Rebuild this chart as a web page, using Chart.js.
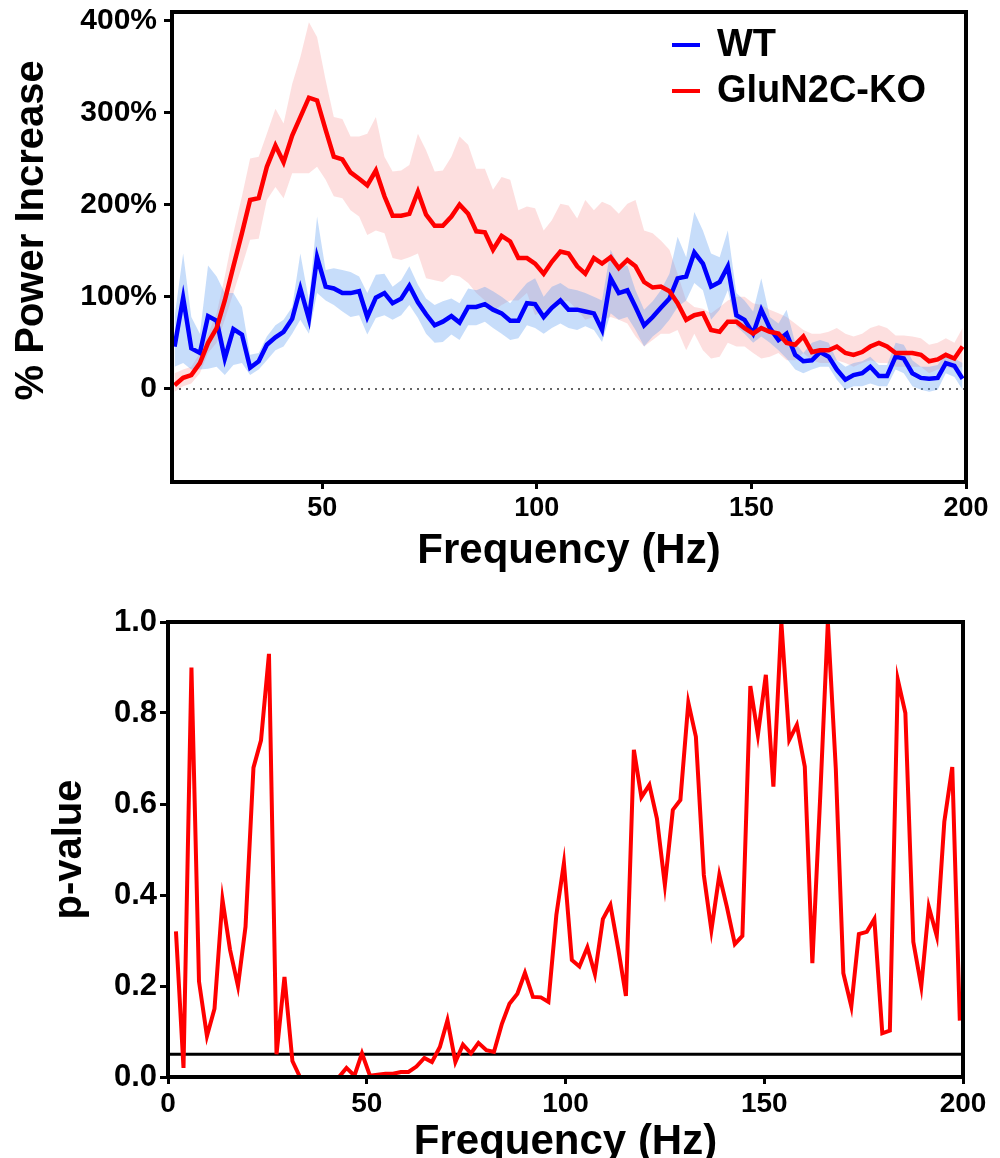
<!DOCTYPE html>
<html>
<head>
<meta charset="utf-8">
<script src="https://cdn.jsdelivr.net/npm/chart.js@4.4.1/dist/chart.umd.min.js"></script>
<style>
html, body { margin: 0; padding: 0; background: #fff; width: 1000px; height: 1158px; overflow: hidden; }
canvas { display: block; }
</style>
</head>
<body>
<canvas id="powerChart" width="1000" height="590"></canvas>
<canvas id="pChart" width="1000" height="600"></canvas>
<script>
// frequency bins (Hz), step ~1.95 Hz
const freqHz = [2.0, 3.9, 5.9, 7.8, 9.8, 11.7, 13.7, 15.6, 17.6, 19.5, 21.5, 23.4, 25.4, 27.3, 29.3, 31.3, 33.2, 35.2, 37.1, 39.1,
  41.0, 43.0, 44.9, 46.9, 48.8, 50.8, 52.7, 54.7, 56.6, 58.6, 60.5, 62.5, 64.5, 66.4, 68.4, 70.3, 72.3, 74.2, 76.2, 78.1,
  80.1, 82.0, 84.0, 85.9, 87.9, 89.8, 91.8, 93.8, 95.7, 97.7, 99.6, 101.6, 103.5, 105.5, 107.4, 109.4, 111.3, 113.3, 115.2, 117.2,
  119.1, 121.1, 123.0, 125.0, 127.0, 128.9, 130.9, 132.8, 134.8, 136.7, 138.7, 140.6, 142.6, 144.5, 146.5, 148.4, 150.4, 152.3, 154.3, 156.3,
  158.2, 160.2, 162.1, 164.1, 166.0, 168.0, 169.9, 171.9, 173.8, 175.8, 177.7, 179.7, 181.6, 183.6, 185.5, 187.5, 189.5, 191.4, 193.4, 195.3,
  197.3, 199.2];

// top panel starts at 15.6 Hz
const freqTop = freqHz.slice(7);

// % power increase, WT
const wtMean = [46, 99, 44, 39, 79, 74, 33, 65, 59, 23, 30, 48, 56, 62, 76, 109, 76, 143, 111, 109,
  104, 104, 106, 78, 99, 104, 93, 98, 112, 94, 81, 69, 73, 79, 72, 89, 89, 92, 86, 82,
  74, 74, 93, 92, 78, 88, 96, 86, 86, 84, 82, 64, 120, 104, 107, 89, 69, 78, 88, 98,
  120, 122, 148, 136, 111, 116, 133, 80, 75, 60, 86, 66, 53, 60, 37, 30, 31, 40, 35, 21,
  10, 15, 17, 24, 14, 14, 35, 33, 17, 12, 11, 12, 28, 25, 11];
const wtUpper = [78, 147, 78, 60, 134, 122, 104, 104, 89, 37, 39, 57, 69, 75, 89, 147, 96, 187, 129, 131,
  129, 127, 122, 104, 124, 125, 111, 118, 133, 113, 98, 91, 95, 98, 93, 109, 107, 111, 106, 100,
  93, 104, 115, 120, 100, 111, 115, 109, 107, 104, 100, 96, 151, 133, 134, 107, 86, 95, 107, 125,
  165, 143, 192, 172, 147, 143, 172, 104, 96, 84, 120, 78, 71, 86, 50, 39, 50, 53, 50, 31,
  24, 28, 30, 35, 26, 26, 50, 48, 31, 24, 24, 26, 39, 33, 28];
const wtLower = [24, 28, 21, 21, 22, 24, 15, 26, 28, 15, 21, 31, 42, 46, 60, 75, 60, 104, 96, 91,
  84, 78, 80, 59, 77, 80, 75, 80, 91, 77, 60, 50, 51, 59, 53, 69, 69, 73, 66, 60,
  53, 55, 69, 66, 60, 66, 71, 66, 64, 68, 64, 51, 82, 75, 78, 64, 46, 57, 64, 75,
  89, 96, 115, 107, 75, 86, 107, 68, 60, 50, 57, 50, 42, 33, 21, 17, 21, 24, 24, 10,
  -1, 3, 3, 6, 3, 3, 21, 17, 3, -1, -3, -1, 17, 13, -1];

// % power increase, GluN2C-KO
const koMean = [4, 12, 15, 28, 50, 66, 96, 133, 169, 205, 207, 241, 264, 246, 275, 295, 316, 313, 281, 252,
  249, 235, 228, 221, 237, 209, 188, 188, 190, 214, 189, 177, 177, 187, 200, 190, 171, 170, 151, 166,
  160, 142, 142, 136, 125, 138, 149, 147, 133, 125, 142, 136, 143, 131, 140, 133, 116, 110, 111, 106,
  93, 75, 80, 82, 64, 62, 73, 73, 66, 60, 66, 62, 60, 50, 48, 57, 40, 42, 42, 46,
  39, 37, 40, 46, 50, 46, 39, 39, 39, 37, 30, 32, 37, 33, 46];
const koUpper = [17, 21, 24, 39, 60, 82, 122, 169, 209, 250, 252, 277, 304, 288, 331, 360, 398, 382, 335, 295,
  293, 274, 274, 277, 295, 252, 236, 237, 243, 277, 259, 236, 237, 252, 274, 265, 239, 239, 216, 230,
  227, 194, 198, 196, 172, 183, 201, 199, 185, 205, 194, 203, 199, 190, 201, 205, 172, 169, 161, 151,
  125, 96, 89, 87, 82, 89, 96, 100, 100, 93, 91, 86, 82, 78, 71, 64, 60, 60, 62, 66,
  60, 57, 60, 66, 69, 66, 58, 58, 57, 55, 48, 50, 55, 50, 66];
const koLower = [-3, 3, 6, 17, 39, 50, 75, 104, 133, 162, 163, 205, 219, 207, 234, 234, 234, 241, 227, 209,
  207, 194, 187, 167, 172, 169, 142, 140, 143, 147, 120, 118, 116, 124, 122, 115, 104, 96, 84, 91,
  96, 96, 104, 80, 86, 86, 96, 95, 86, 75, 78, 75, 78, 75, 71, 57, 46, 53, 60, 60,
  64, 42, 60, 42, 33, 35, 50, 46, 46, 39, 33, 35, 39, 31, 31, 39, 31, 28, 28, 31,
  28, 24, 28, 31, 28, 28, 24, 24, 24, 24, 17, 21, 24, 21, 24];

// p-value per frequency bin
const pValues = [0.32, 0.02, 0.90, 0.21, 0.09, 0.15, 0.39, 0.28, 0.20, 0.33, 0.68, 0.74, 0.93, 0.05, 0.22, 0.035,
  0, 0, 0, 0, 0, 0, 0.02, 0.003, 0.052, 0.003, 0.005, 0.007, 0.007, 0.011, 0.011, 0.023, 0.042, 0.033, 0.066, 0.125,
  0.033, 0.071, 0.052, 0.075, 0.059, 0.055, 0.117, 0.161, 0.183, 0.229, 0.176, 0.175, 0.165, 0.356, 0.470, 0.257,
  0.243, 0.285, 0.226, 0.347, 0.378, 0.28, 0.178, 0.719, 0.615, 0.642, 0.568, 0.422, 0.587, 0.609, 0.823, 0.748,
  0.444, 0.323, 0.444, 0.374, 0.292, 0.31, 0.859, 0.752, 0.884, 0.638, 1.0, 0.741, 0.774, 0.682, 0.25, 0.62,
  1.0, 0.678, 0.228, 0.155, 0.314, 0.319, 0.347, 0.096, 0.102, 0.873, 0.80, 0.297, 0.199, 0.374, 0.31, 0.561,
  0.681, 0.124];

const powerTicks = [0, 100, 200, 300, 400];
const freqTicksTop = [50, 100, 150, 200];
const pThreshold = 0.05;

const RED = '#ff0000';
const BLUE = '#0000ff';
const FONT = "'Liberation Sans', Arial, Helvetica, sans-serif";

Chart.defaults.font.family = FONT;
Chart.defaults.font.weight = 'bold';
Chart.defaults.color = '#000';
Chart.defaults.animation = false;

const pts = (xs, ys) => ys.map((y, i) => ({ x: xs[i], y: y }));

// black box round the plot area
const frame = {
  id: 'frame',
  afterDatasetsDraw(chart) {
    const a = chart.chartArea, ctx = chart.ctx;
    ctx.save();
    ctx.lineWidth = 4;
    ctx.strokeStyle = '#000';
    ctx.strokeRect(a.left, a.top, a.right - a.left, a.bottom - a.top);
    ctx.restore();
  }
};

// legend drawn inside the top-right corner of the plot
const insideLegend = {
  id: 'insideLegend',
  afterDraw(chart) {
    const a = chart.chartArea, ctx = chart.ctx;
    const x0 = a.right - 294;
    const items = [['WT', BLUE, a.top + 33], ['GluN2C-KO', RED, a.top + 79]];
    ctx.save();
    ctx.font = 'bold 38px ' + FONT;
    ctx.textBaseline = 'middle';
    ctx.textAlign = 'left';
    items.forEach(([label, color, y]) => {
      ctx.strokeStyle = color;
      ctx.lineWidth = 4;
      ctx.beginPath();
      ctx.moveTo(x0, y);
      ctx.lineTo(x0 + 28, y);
      ctx.stroke();
      ctx.fillStyle = '#000';
      ctx.fillText(label, x0 + 45, y + 1);
    });
    ctx.restore();
  }
};

const tickGrid = {
  drawOnChartArea: false,
  drawTicks: true,
  tickLength: 8,
  tickWidth: 3,
  tickColor: '#000',
  color: '#000'
};

// ---- top: % power increase ----
new Chart(document.getElementById('powerChart'), {
  type: 'line',
  data: {
    datasets: [
      { label: 'GluN2C-KO', data: pts(freqTop, koMean), borderColor: RED, borderWidth: 4.5, pointRadius: 0, fill: false },
      { label: 'WT', data: pts(freqTop, wtMean), borderColor: BLUE, borderWidth: 4.5, pointRadius: 0, fill: false },
      { label: 'wtUpper', data: pts(freqTop, wtUpper), borderWidth: 0, pointRadius: 0, backgroundColor: 'rgba(100,160,240,0.36)', fill: '+1' },
      { label: 'wtLower', data: pts(freqTop, wtLower), borderWidth: 0, pointRadius: 0, fill: false },
      { label: 'koUpper', data: pts(freqTop, koUpper), borderWidth: 0, pointRadius: 0, backgroundColor: 'rgba(250,150,150,0.3)', fill: '+1' },
      { label: 'koLower', data: pts(freqTop, koLower), borderWidth: 0, pointRadius: 0, fill: false },
      { label: 'zero', data: [{ x: 15, y: 0 }, { x: 200, y: 0 }], borderColor: '#333', borderWidth: 1.5, borderDash: [2, 5], pointRadius: 0, fill: false }
    ]
  },
  options: {
    responsive: false,
    layout: { padding: { left: 0, right: 34, top: 12, bottom: 0 } },
    plugins: { legend: { display: false }, tooltip: { enabled: false } },
    scales: {
      x: {
        type: 'linear', min: 15, max: 200,
        grid: { ...tickGrid, tickLength: 7 },
        border: { display: false },
        afterBuildTicks: s => { s.ticks = freqTicksTop.map(v => ({ value: v })); },
        afterFit: s => { s.height = 108; s.paddingLeft = 0; s.paddingRight = 0; },
        ticks: { font: { size: 27, weight: 'bold' }, padding: 3, maxRotation: 0 },
        title: { display: true, text: 'Frequency (Hz)', font: { size: 42, weight: 'bold' }, padding: { top: 0, bottom: 13 } }
      },
      y: {
        min: -101, max: 409,
        grid: tickGrid,
        border: { display: false },
        afterBuildTicks: s => { s.ticks = powerTicks.map(v => ({ value: v })); },
        afterFit: s => { s.width = 172; s.paddingTop = 0; s.paddingBottom = 0; },
        ticks: { font: { size: 30, weight: 'bold' }, padding: 7, callback: v => v === 0 ? '0' : v + '%' },
        // leading spaces nudge the centred title up, as in the figure
        title: { display: true, text: '   % Power Increase', font: { size: 40, weight: 'bold' }, padding: { top: 8, bottom: 0 } }
      }
    }
  },
  plugins: [frame, insideLegend]
});

// ---- bottom: p-value ----
new Chart(document.getElementById('pChart'), {
  type: 'line',
  data: {
    datasets: [
      { label: 'p', data: pts(freqHz, pValues), borderColor: RED, borderWidth: 4, pointRadius: 0, fill: false },
      { label: 'p = 0.05', data: [{ x: 0, y: pThreshold }, { x: 200, y: pThreshold }], borderColor: '#000', borderWidth: 3, pointRadius: 0, fill: false }
    ]
  },
  options: {
    responsive: false,
    layout: { padding: { left: 0, right: 37, top: 32, bottom: 0 } },
    plugins: { legend: { display: false }, tooltip: { enabled: false } },
    scales: {
      x: {
        type: 'linear', min: 0, max: 200,
        grid: { ...tickGrid, tickLength: 7 },
        border: { display: false },
        afterFit: s => { s.height = 113; s.paddingLeft = 0; s.paddingRight = 0; },
        ticks: { stepSize: 50, font: { size: 28, weight: 'bold' }, padding: 3, maxRotation: 0 },
        title: { display: true, text: 'Frequency (Hz)', font: { size: 42, weight: 'bold' }, padding: { top: 0, bottom: 22 } }
      },
      y: {
        min: 0, max: 1,
        grid: tickGrid,
        border: { display: false },
        afterFit: s => { s.width = 168; s.paddingTop = 0; s.paddingBottom = 0; },
        ticks: { stepSize: 0.2, font: { size: 31, weight: 'bold' }, padding: 3, callback: v => v.toFixed(1) },
        title: { display: true, text: 'p-value', font: { size: 40, weight: 'bold' }, padding: { top: 46, bottom: 0 } }
      }
    }
  },
  plugins: [frame]
});
</script>
</body>
</html>
